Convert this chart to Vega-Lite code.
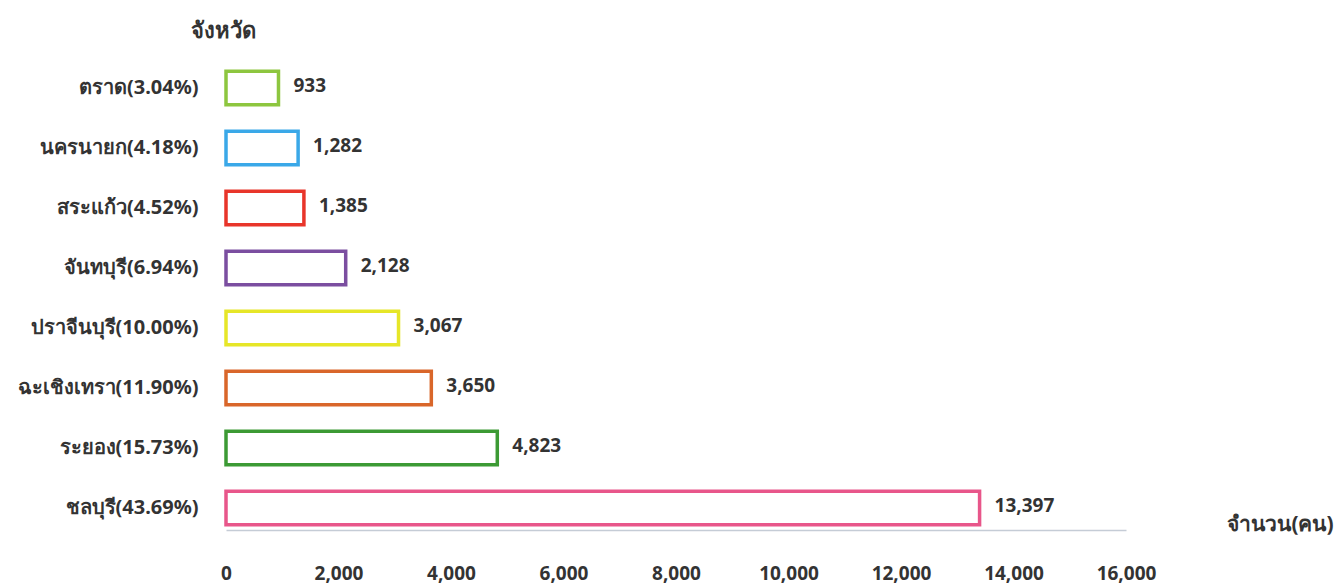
{
  "$schema": "https://vega.github.io/schema/vega-lite/v6.json",
  "autosize": "none",
  "width": 900,
  "height": 480,
  "padding": {"left": 226, "top": 58, "right": 214, "bottom": 50},
  "background": "white",
  "config": {"view": {"stroke": null}, "font": "Noto Sans"},
  "data": {
    "values": [
      {"province": "ตราด(3.04%)", "count": 933},
      {"province": "นครนายก(4.18%)", "count": 1282},
      {"province": "สระแก้ว(4.52%)", "count": 1385},
      {"province": "จันทบุรี(6.94%)", "count": 2128},
      {"province": "ปราจีนบุรี(10.00%)", "count": 3067},
      {"province": "ฉะเชิงเทรา(11.90%)", "count": 3650},
      {"province": "ระยอง(15.73%)", "count": 4823},
      {"province": "ชลบุรี(43.69%)", "count": 13397}
    ]
  },
  "encoding": {
    "y": {
      "field": "province",
      "type": "nominal",
      "sort": null,
      "scale": {"paddingInner": 0.44, "paddingOuter": 0.22},
      "axis": {
        "title": "จังหวัด",
        "titleAngle": 0,
        "titleAlign": "left",
        "titleBaseline": "middle",
        "titleX": -36,
        "titleY": -28,
        "titleFontSize": 22,
        "titleFontWeight": "bold",
        "titleColor": "#333333",
        "domain": false,
        "ticks": false,
        "labelPadding": 28,
        "labelLimit": 300,
        "labelFontSize": 20,
        "labelFontWeight": "bold",
        "labelColor": "#333333"
      }
    }
  },
  "layer": [
    {
      "mark": {"type": "bar", "fill": "white", "strokeWidth": 3.5},
      "encoding": {
        "x": {
          "field": "count",
          "type": "quantitative",
          "scale": {"domain": [0, 16000], "nice": false},
          "axis": {
            "values": [0, 2000, 4000, 6000, 8000, 10000, 12000, 14000, 16000],
            "format": ",d",
            "offset": -8,
            "grid": false,
            "ticks": false,
            "labelFlush": false,
            "labelOverlap": false,
            "domainColor": "#c5ccd6",
            "domainWidth": 1.5,
            "labelPadding": 34,
            "labelFontSize": 19,
            "labelFontWeight": "bold",
            "labelColor": "#333333",
            "title": "จำนวน(คน)",
            "titleX": 1054,
            "titleY": -6,
            "titleAlign": "center",
            "titleBaseline": "middle",
            "titleFontSize": 21,
            "titleFontWeight": "bold",
            "titleColor": "#333333"
          }
        },
        "stroke": {
          "field": "province",
          "type": "nominal",
          "legend": null,
          "scale": {
            "domain": ["ตราด(3.04%)", "นครนายก(4.18%)", "สระแก้ว(4.52%)", "จันทบุรี(6.94%)", "ปราจีนบุรี(10.00%)", "ฉะเชิงเทรา(11.90%)", "ระยอง(15.73%)", "ชลบุรี(43.69%)"],
            "range": ["#8dc63f", "#3aa8e8", "#e8352a", "#7b4ea0", "#e6e628", "#d9662a", "#3c9a34", "#e8568a"]
          }
        }
      }
    },
    {
      "mark": {"type": "text", "align": "left", "baseline": "middle", "dx": 15, "dy": -2, "fontSize": 19, "fontWeight": "bold", "color": "#333333"},
      "encoding": {
        "x": {"field": "count", "type": "quantitative"},
        "text": {"field": "count", "type": "quantitative", "format": ",d"}
      }
    }
  ]
}
